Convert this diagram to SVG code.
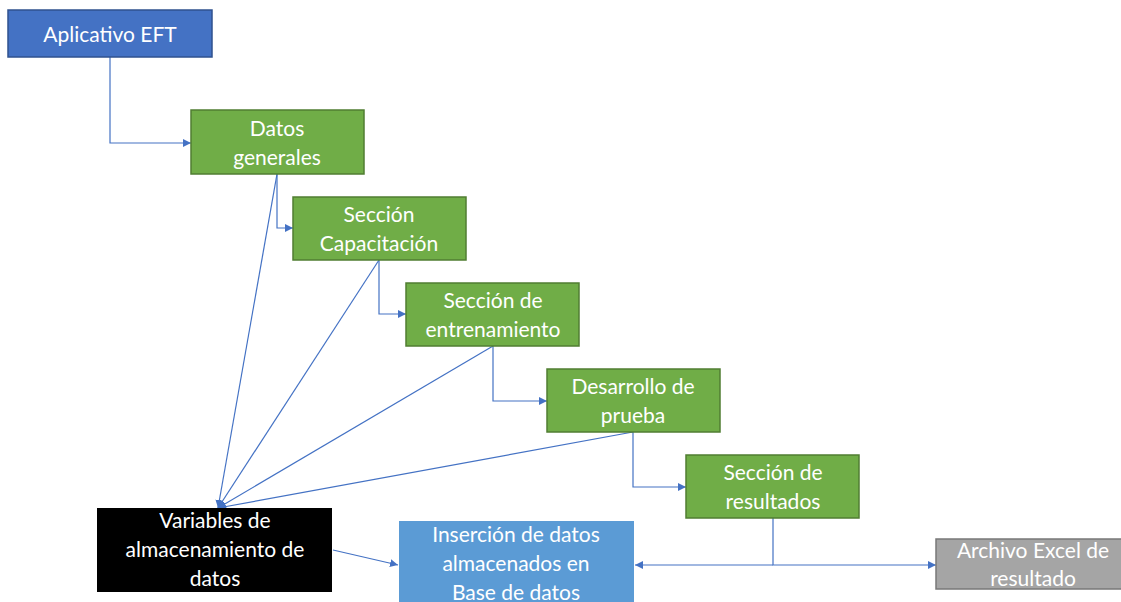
<svg xmlns="http://www.w3.org/2000/svg" width="1121" height="602" viewBox="0 0 1121 602">
<defs>
<style>
.t{font-family:Lato,"Noto Sans",sans-serif;font-size:21px;fill:#fff;text-anchor:middle}
.g{fill:#70AD47;stroke:#507E32;stroke-width:1.5}
.c{fill:none;stroke:#4472C4;stroke-width:1.2}
</style>
<marker id="a" viewBox="0 0 10 10" refX="10" refY="5" markerWidth="8" markerHeight="8" markerUnits="userSpaceOnUse" orient="auto">
<path d="M0,0 L10,5 L0,10 z" fill="#4472C4"/>
</marker>
</defs>
<rect width="1121" height="602" fill="#fff"/>
<g id="connectors">
<path class="c" d="M110,57 V143 H191" marker-end="url(#a)"/>
<path class="c" d="M277,174 V228 H293" marker-end="url(#a)"/>
<path class="c" d="M379,260 V314 H406" marker-end="url(#a)"/>
<path class="c" d="M493,346 V401 H547" marker-end="url(#a)"/>
<path class="c" d="M633,432 V487 H686" marker-end="url(#a)"/>
<path class="c" d="M773,518 V565 H936" marker-end="url(#a)"/>
<path class="c" d="M773,565 H635" marker-end="url(#a)"/>
<path class="c" d="M277,174 L218,508" marker-end="url(#a)"/>
<path class="c" d="M379,260 L218,508" marker-end="url(#a)"/>
<path class="c" d="M493,346 L218,508" marker-end="url(#a)"/>
<path class="c" d="M633,432 L218,508" marker-end="url(#a)"/>
<path class="c" d="M333,550 L398,565" marker-end="url(#a)"/>
</g>
<g id="n1"><rect x="8" y="10" width="204" height="47" fill="#4472C4" stroke="#2F528F" stroke-width="1.5"/><text class="t" x="110" y="42">Aplicativo EFT</text></g>
<g id="n2"><rect class="g" x="191" y="110" width="173" height="64"/><text class="t" x="277" y="136">Datos</text><text class="t" x="277" y="165">generales</text></g>
<g id="n3"><rect class="g" x="293" y="197" width="173" height="63"/><text class="t" x="379" y="222">Sección</text><text class="t" x="379" y="251">Capacitación</text></g>
<g id="n4"><rect class="g" x="406" y="283" width="173" height="63"/><text class="t" x="493" y="308">Sección de</text><text class="t" x="493" y="337">entrenamiento</text></g>
<g id="n5"><rect class="g" x="547" y="369" width="173" height="63"/><text class="t" x="633" y="394">Desarrollo de</text><text class="t" x="633" y="423">prueba</text></g>
<g id="n6"><rect class="g" x="686" y="455" width="173" height="63"/><text class="t" x="773" y="480">Sección de</text><text class="t" x="773" y="509">resultados</text></g>
<g id="n7"><rect x="97" y="508" width="235" height="84" fill="#000"/><text class="t" x="215" y="528">Variables de</text><text class="t" x="215" y="557">almacenamiento de</text><text class="t" x="215" y="586">datos</text></g>
<g id="n8"><rect x="399" y="521" width="235" height="90" fill="#5B9BD5"/><text class="t" x="516" y="542">Inserción de datos</text><text class="t" x="516" y="571">almacenados en</text><text class="t" x="516" y="600">Base de datos</text></g>
<g id="n9"><rect x="936" y="539" width="190" height="50" fill="#A5A5A5" stroke="#787878" stroke-width="1.5"/><text class="t" x="1033" y="558">Archivo Excel de</text><text class="t" x="1033" y="586">resultado</text></g>
</svg>
